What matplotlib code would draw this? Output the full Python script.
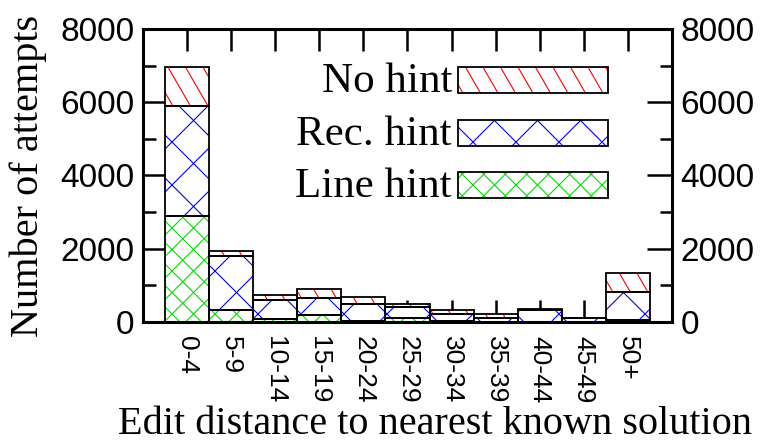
import numpy as np
import matplotlib
matplotlib.use("Agg")
import matplotlib.pyplot as plt
from matplotlib.patches import Rectangle
from matplotlib.collections import LineCollection
from matplotlib.ticker import MultipleLocator

# data (stacked segments)
bins = ["0-4", "5-9", "10-14", "15-19", "20-24", "25-29",
        "30-34", "35-39", "40-44", "45-49", "50+"]
line_hint = [2900, 330, 80, 190, 40, 117, 30, 10, 10, 10, 50]
rec_hint = [3000, 1470, 520, 475, 460, 283, 190, 90, 320, 90, 760]
no_hint = [1070, 150, 140, 235, 180, 85, 100, 110, 25, 20, 540]

series_names = ["No hint", "Rec. hint", "Line hint"]

SERIF = "Liberation Serif"
SANS = "Liberation Sans"

# hatch styles: list of (angle in degrees, horizontal period in px)
styles = {
    "No hint": ("#ff0000", [(-60, 17.5)]),
    "Rec. hint": ("#0000ff", [(45, 43), (-45, 43)]),
    "Line hint": ("#00dd00", [(45, 21.5), (-45, 21.5)]),
}


def hatched_rect(ax, x0, y0, w, h, color, lines, transform):
    rect = Rectangle((x0, y0), w, h, transform=transform,
                     facecolor="white", edgecolor="none", zorder=2)
    ax.add_patch(rect)
    corners = transform.transform([(x0, y0), (x0 + w, y0),
                                   (x0, y0 + h), (x0 + w, y0 + h)])
    center = corners.mean(axis=0)
    diag = np.hypot(*(corners[3] - corners[0])) + 10
    inv = transform.inverted()
    segs = []
    for angle, period in lines:
        a = np.radians(angle)
        d = np.array([np.cos(a), np.sin(a)])
        n = np.array([-np.sin(a), np.cos(a)])
        perp = period * abs(np.sin(a))
        proj = corners @ n
        for k in range(int(np.floor(proj.min() / perp)),
                       int(np.ceil(proj.max() / perp)) + 1):
            p = n * k * perp + d * (center @ d)
            seg = np.array([p - d * diag, p + d * diag])
            segs.append(inv.transform(seg))
    lc = LineCollection(segs, colors=color, linewidths=0.8,
                        transform=transform, zorder=2.1)
    ax.add_collection(lc, autolim=False)
    lc.set_clip_path(rect)   # after add_collection, else it gets reset
    ax.add_patch(Rectangle((x0, y0), w, h, transform=transform,
                           fill=False, edgecolor="black", linewidth=1.3,
                           zorder=2.2))


def main():
    fig = plt.figure(figsize=(7.73, 4.43), dpi=100)
    ax = fig.add_axes([143 / 773, 1 - 322 / 443, 529 / 773, 293 / 443])
    ax.set_xlim(-1, 11)
    ax.set_ylim(0, 8000)
    ax.set_axisbelow(True)

    x = np.arange(len(bins))
    bottoms = np.zeros(len(bins))
    stack = [("Line hint", line_hint), ("Rec. hint", rec_hint),
             ("No hint", no_hint)]
    for name, vals in stack:
        color, lines = styles[name]
        for i in range(len(bins)):
            hatched_rect(ax, x[i] - 0.5, bottoms[i], 1.0, vals[i],
                         color, lines, ax.transData)
        bottoms = bottoms + np.array(vals)

    # legend drawn by hand
    box_y = {"No hint": 0.7816, "Rec. hint": 0.6007, "Line hint": 0.423}
    for name in series_names:
        color, lines = styles[name]
        y0 = box_y[name]
        hatched_rect(ax, 0.5955, y0, 0.2835, 0.0887, color, lines,
                     ax.transAxes)
        ax.text(0.584, y0 + 0.038, name, transform=ax.transAxes,
                ha="right", va="center", fontsize=31, family=SERIF)

    ax.set_xticks(x)
    ax.set_xticklabels(bins, rotation=-90, family=SANS, fontsize=19)
    ax.yaxis.set_major_locator(MultipleLocator(2000))
    ax.yaxis.set_minor_locator(MultipleLocator(1000))
    ax.tick_params(axis="x", direction="in", length=16, width=1.8,
                   top=True, pad=10)
    ax.tick_params(axis="y", which="major", direction="in", length=18,
                   width=1.8, left=True, right=True, labelright=True,
                   pad=6, labelsize=24)
    ax.tick_params(axis="y", which="minor", direction="in", length=9,
                   width=1.8, left=True, right=True)
    for lab in ax.get_yticklabels():
        lab.set_family(SANS)
    for sp in ax.spines.values():
        sp.set_linewidth(2.2)

    fig.text(28 / 773, 1 - 176 / 443, "Number of attempts", rotation=90,
             ha="center", va="center", fontsize=29, family=SERIF)
    fig.text(435 / 773, 1 - 434 / 443,
             "Edit distance to nearest known solution",
             ha="center", va="baseline", fontsize=29, family=SERIF)

    fig.savefig("out.png", dpi=100)


if __name__ == '__main__':
    main()
